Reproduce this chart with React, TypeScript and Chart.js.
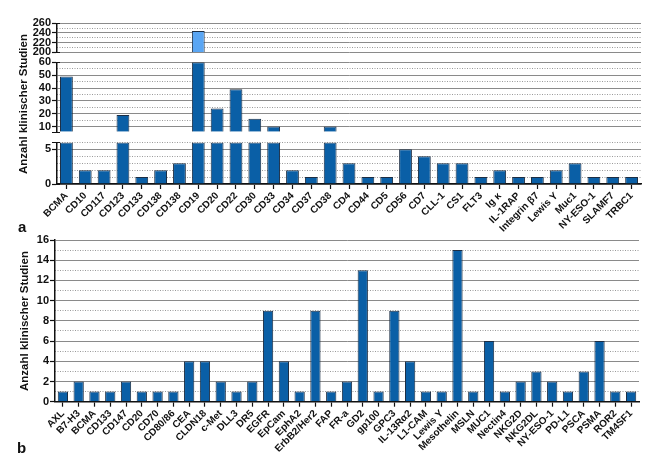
import React, { useEffect, useRef } from "react";
import { Chart, registerables } from "chart.js";

Chart.register(...registerables);

// ---------- data ----------
const categoriesA = [
  "BCMA", "CD10", "CD117", "CD123", "CD133", "CD138", "CD138", "CD19", "CD20", "CD22",
  "CD30", "CD33", "CD34", "CD37", "CD38", "CD4", "CD44", "CD5", "CD56", "CD7",
  "CLL-1", "CS1", "FLT3", "Ig κ", "IL-1RAP", "Integrin β7", "Lewis Y", "Muc1", "NY-ESO-1", "SLAMF7", "TRBC1",
];
const valuesA = [
  49, 2, 2, 19, 1, 2, 3, 244, 24, 39,
  16, 10, 2, 1, 10, 3, 1, 1, 5, 4,
  3, 3, 1, 2, 1, 1, 2, 3, 1, 1, 1,
];

const categoriesB = [
  "AXL", "B7-H3", "BCMA", "CD133", "CD147", "CD20", "CD70", "CD80/86", "CEA", "CLDN18",
  "c-Met", "DLL3", "DR5", "EGFR", "EpCam", "EphA2", "ErbB2/Her2", "FAP", "FR-a", "GD2",
  "gp100", "GPC3", "IL-13Rα2", "L1-CAM", "Lewis Y", "Mesothelin", "MSLN", "MUC1", "Nectin4", "NKG2D",
  "NKG2DL", "NY-ESO-1", "PD-L1", "PSCA", "PSMA", "ROR2", "TM4SF1",
];
const valuesB = [
  1, 2, 1, 1, 2, 1, 1, 1, 4, 4,
  2, 1, 2, 9, 4, 1, 9, 1, 2, 13,
  1, 9, 4, 1, 1, 15, 1, 6, 1, 2,
  3, 2, 1, 3, 6, 1, 1,
];

// broken axis segments of panel a: [min, max, major step, minor step]
const segmentTop = [200, 260, 20, 10];
const segmentMid = [6, 60, 10, 5];
const segmentLow = [0, 6, 5, 1];
const scaleB = [0, 16, 2, 1];

// ---------- style ----------
const W = 661;
const H = 472;
const FONT = "'Liberation Sans', Arial, Helvetica, sans-serif";
const BAR = "#0a5fa6";
const BAR_TOP = "#5aa6f4";
const EDGE = "#1c2e44";
const GRID = "#8a8a8a";
const MINOR = "#9a9a9a";
const INK = "#111111";

// short marks at the ends of each y-axis segment (axis break markers)
const breakMarks = {
  id: "breakMarks",
  afterDraw(chart: any) {
    const s = chart.scales.y;
    const { ctx } = chart;
    const x = chart.chartArea.left;
    ctx.save();
    ctx.strokeStyle = INK;
    ctx.lineWidth = 1.2;
    ctx.beginPath();
    [s.min, s.max].forEach((v: number) => {
      const y = Math.round(s.getPixelForValue(v)) + 0.5;
      ctx.moveTo(x - 5, y);
      ctx.lineTo(x + 3, y);
    });
    ctx.stroke();
    ctx.restore();
  },
};

function yScales(seg: number[], axisWidth: number) {
  const [min, max, major, minor] = seg;
  return {
    y: {
      type: "linear",
      position: "left",
      min,
      max,
      ticks: {
        stepSize: major,
        includeBounds: false,
        autoSkip: false,
        padding: 1,
        color: INK,
        font: { family: FONT, size: 11, weight: "bold" },
      },
      grid: {
        color: GRID,
        lineWidth: 1,
        drawTicks: true,
        tickLength: 5,
        tickColor: INK,
        tickWidth: 1.2,
      },
      border: { display: true, color: INK, width: 1.5 },
      afterFit: (s: any) => {
        s.width = axisWidth;
      },
    },
    y2: {
      type: "linear",
      position: "left",
      min,
      max,
      ticks: { display: false, autoSkip: false, stepSize: minor, includeBounds: false },
      grid: {
        color: (c: any) => (c.tick && c.tick.value % major === 0 ? "rgba(0,0,0,0)" : MINOR),
        lineWidth: 1,
        drawTicks: false,
      },
      border: { display: false, dash: [1, 1.5] },
      afterFit: (s: any) => {
        s.width = 0;
      },
    },
  };
}

function xScale(show: boolean) {
  if (!show) return { type: "category", offset: true, display: false };
  return {
    type: "category",
    offset: true,
    grid: {
      display: true,
      drawOnChartArea: false,
      drawTicks: true,
      tickLength: 5,
      tickColor: INK,
      tickWidth: 1.2,
      offset: false,
    },
    border: { display: true, color: INK, width: 1.5 },
    ticks: {
      autoSkip: false,
      maxRotation: 45,
      minRotation: 45,
      padding: 1,
      color: INK,
      font: { family: FONT, size: 10, weight: "bold" },
    },
    afterFit: (s: any) => {
      s.height = 50;
    },
  };
}

type Panel = {
  labels: string[];
  values: number[];
  seg: number[];
  color: string;
  showX: boolean;
  broken: boolean;
  top: number;
  bottom: number;
  left: number;
  right: number;
  barPct: number;
};

function buildConfig(p: Panel): any {
  const [min, max] = p.seg;
  const data = p.values.map((v) => (v > min ? [min, Math.min(v, max)] : null));
  return {
    type: "bar",
    data: {
      labels: p.labels,
      datasets: [
        {
          data,
          backgroundColor: p.color,
          borderColor: EDGE,
          borderWidth: 1,
          borderSkipped: "start",
          barPercentage: p.barPct,
          categoryPercentage: 1,
        },
      ],
    },
    plugins: p.broken ? [breakMarks] : [],
    options: {
      responsive: false,
      animation: false,
      devicePixelRatio: 1,
      layout: {
        padding: {
          left: 0,
          right: W - p.right,
          top: p.top,
          bottom: p.showX ? H - p.bottom - 50 : H - p.bottom,
        },
      },
      plugins: { legend: { display: false }, tooltip: { enabled: false } },
      scales: { x: xScale(p.showX), ...yScales(p.seg, p.left) },
    },
  };
}

const panels: Panel[] = [
  { labels: categoriesA, values: valuesA, seg: segmentTop, color: BAR_TOP, showX: false, broken: true, top: 23.3, bottom: 52.3, left: 57, right: 641, barPct: 0.68 },
  { labels: categoriesA, values: valuesA, seg: segmentMid, color: BAR, showX: false, broken: true, top: 62.3, bottom: 131.7, left: 57, right: 641, barPct: 0.68 },
  { labels: categoriesA, values: valuesA, seg: segmentLow, color: BAR, showX: true, broken: true, top: 142.4, bottom: 184, left: 57, right: 641, barPct: 0.68 },
  { labels: categoriesB, values: valuesB, seg: scaleB, color: BAR, showX: true, broken: false, top: 240, bottom: 401.7, left: 55, right: 639, barPct: 0.65 },
];

function PanelCanvas({ panel }: { panel: Panel }) {
  const ref = useRef<HTMLCanvasElement | null>(null);
  useEffect(() => {
    if (!ref.current) return;
    const chart = new Chart(ref.current, buildConfig(panel));
    return () => chart.destroy();
  }, [panel]);
  return (
    <canvas
      ref={ref}
      width={W}
      height={H}
      style={{ position: "absolute", left: 0, top: 0, width: W, height: H, pointerEvents: "none" }}
    />
  );
}

const titleStyle = (cx: number, cy: number): React.CSSProperties => ({
  position: "absolute",
  left: cx,
  top: cy,
  transform: "translate(-50%, -50%) rotate(-90deg)",
  whiteSpace: "nowrap",
  fontFamily: FONT,
  fontWeight: "bold",
  fontSize: 11.5,
  lineHeight: 1,
  color: INK,
});

const letterStyle = (x: number, y: number): React.CSSProperties => ({
  position: "absolute",
  left: x,
  top: y,
  fontFamily: FONT,
  fontWeight: "bold",
  fontSize: 15,
  lineHeight: 1,
  color: INK,
});

export default function App() {
  return (
    <div style={{ position: "absolute", left: 0, top: 0, width: W, height: H, background: "#ffffff", overflow: "hidden" }}>
      {panels.map((p, i) => (
        <PanelCanvas key={i} panel={p} />
      ))}
      <div style={titleStyle(24, 103.5)}>Anzahl klinischer Studien</div>
      <div style={titleStyle(24.5, 320.5)}>Anzahl klinischer Studien</div>
      <div style={letterStyle(18, 219)}>a</div>
      <div style={letterStyle(17, 440)}>b</div>
    </div>
  );
}
